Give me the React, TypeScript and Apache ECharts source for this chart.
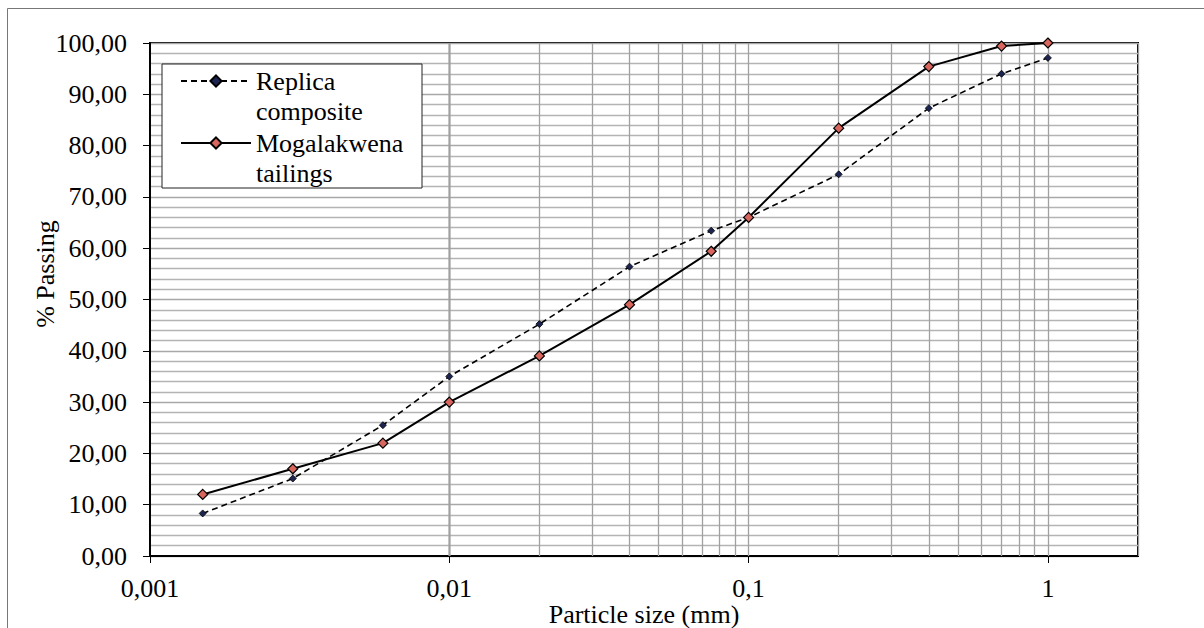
import React, { useEffect, useRef } from "react";
import * as echarts from "echarts";

const particleSizes = [0.0015, 0.003, 0.006, 0.01, 0.02, 0.04, 0.075, 0.1, 0.2, 0.4, 0.7, 1];
const replicaComposite = [8.3, 15.1, 25.5, 35, 45.2, 56.4, 63.4, 66, 74.4, 87.3, 94, 97.1];
const mogalakwenaTailings = [12, 17, 22, 30, 39, 49, 59.4, 66, 83.4, 95.4, 99.4, 100];
const decades = [0.001, 0.01, 0.1, 1];
const decadeMultipliers = [1, 2, 3, 4, 5, 6, 7, 8, 9];
const xTickLabels: Record<string, string> = { "0.001": "0,001", "0.01": "0,01", "0.1": "0,1", "1": "1" };

const FONT = "Liberation Serif";
const FS = 26;

export default function App() {
  const ref = useRef<HTMLDivElement>(null);
  useEffect(() => {
    document.body.style.margin = "0";
    if (!ref.current) return;
    const chart = echarts.init(ref.current, undefined, { renderer: "svg" });
    const gridX: number[] = [];
    decades.forEach((d) => decadeMultipliers.forEach((m) => {
      const v = +(d * m).toPrecision(6);
      if (v > 0.001 && v <= 2) gridX.push(v);
    }));
    const pairs = (ys: number[]) => particleSizes.map((x, i) => [x, ys[i]]);
    const option: any = {
      animation: false,
      backgroundColor: "#ffffff",
      textStyle: { fontFamily: FONT },
      grid: {
        left: 150, right: 66, top: 43, bottom: 72,
        outerBoundsMode: "none", containLabel: false,
        show: true, borderColor: "#000", borderWidth: 2,
      },
      xAxis: {
        type: "log", logBase: 10, min: 0.001, max: 2,
        name: "Particle size (mm)", nameLocation: "middle", nameGap: 45, nameMoveOverlap: false,
        nameTextStyle: { fontFamily: FONT, fontSize: FS, color: "#000", lineHeight: 26 },
        axisLine: { show: true, onZero: false, lineStyle: { color: "#000", width: 2 } },
        axisTick: { show: true, length: 7, lineStyle: { color: "#000" } },
        axisLabel: {
          fontFamily: FONT, fontSize: FS, color: "#000", margin: 19, showMaxLabel: false,
          formatter: (v: number) => xTickLabels[String(+v.toPrecision(6))] ?? "",
        },
        splitLine: { show: false },
      },
      yAxis: {
        type: "value", min: 0, max: 100, interval: 10,
        axisLine: { show: true, lineStyle: { color: "#000", width: 2 } },
        axisTick: { show: true, length: 7, lineStyle: { color: "#000" } },
        axisLabel: {
          fontFamily: FONT, fontSize: FS, color: "#000", margin: 23,
          formatter: (v: number) => v.toFixed(2).replace(".", ","),
        },
        splitLine: { show: true, lineStyle: { color: "#a8a8a8", width: 1.3 } },
        minorTick: { show: false, splitNumber: 5 },
        minorSplitLine: { show: true, lineStyle: { color: "#b4b4b4", width: 1.3 } },
      },
      legend: {
        show: true, orient: "vertical", left: 180, top: 36, padding: 0,
        itemWidth: 70, itemHeight: 14, itemGap: -28, z: 11,
        data: ["Replica\ncomposite", "Mogalakwena\ntailings"],
        formatter: (name: string) => "\n" + name,
        textStyle: { fontFamily: FONT, fontSize: FS, color: "#000", lineHeight: 30 },
      },
      graphic: [
        {
          type: "rect", z: 10, silent: true,
          shape: { x: 162, y: 64, width: 260, height: 124 },
          style: { fill: "#fff", stroke: "#222", lineWidth: 1 },
        },
        {
          type: "rect", z: 1, silent: true,
          shape: { x: 7.5, y: 8.5, width: 1300, height: 700 },
          style: { fill: "none", stroke: "#777", lineWidth: 1 },
        },
        {
          type: "text", z: 5, x: 45, y: 274, rotation: Math.PI / 2,
          style: { text: "% Passing", fontFamily: FONT, fontSize: FS, fill: "#000", align: "center", verticalAlign: "middle" },
        },
      ],
      series: [
        {
          name: "Replica\ncomposite", type: "line", data: pairs(replicaComposite), z: 4,
          symbol: "diamond", symbolSize: 7,
          lineStyle: { color: "#000", width: 1.6, type: [6, 4] },
          itemStyle: { color: "#1c2452", borderColor: "#000", borderWidth: 0.8 },
          markLine: {
            silent: true, symbol: "none", label: { show: false }, z: 1,
            lineStyle: { color: "#a0a0a0", width: 1.3, type: "solid" },
            data: gridX.map((v) => ({ xAxis: v })),
          },
        },
        {
          name: "Mogalakwena\ntailings", type: "line", data: pairs(mogalakwenaTailings), z: 5,
          symbol: "diamond", symbolSize: 10,
          lineStyle: { color: "#000", width: 2 },
          itemStyle: { color: "#d9665e", borderColor: "#000", borderWidth: 1.2 },
        },
      ],
    };
    chart.setOption(option);
    return () => chart.dispose();
  }, []);
  return <div ref={ref} style={{ width: 1204, height: 628 }} />;
}
